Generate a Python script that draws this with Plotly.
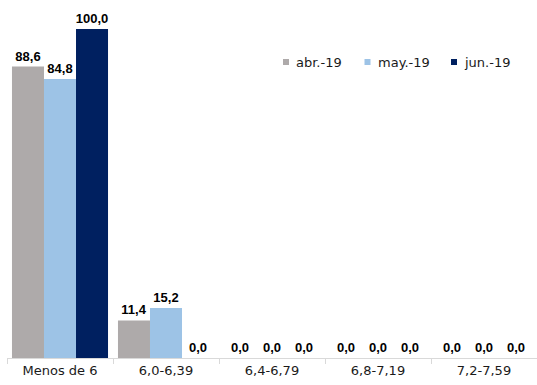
import plotly.graph_objects as go

# Rangos de la variable (categorías del eje X)
categorias = ["Menos de 6", "6,0-6,39", "6,4-6,79", "6,8-7,19", "7,2-7,59"]

# Participación (%) por mes
abr_19 = [88.6, 11.4, 0.0, 0.0, 0.0]
may_19 = [84.8, 15.2, 0.0, 0.0, 0.0]
jun_19 = [100.0, 0.0, 0.0, 0.0, 0.0]

meses = ["abr.-19", "may.-19", "jun.-19"]
valores_mes = [abr_19, may_19, jun_19]
colores = ["#AEAAAA", "#9DC3E6", "#002060"]

FONT = "DejaVu Sans, Verdana, sans-serif"
FONT_ETIQ = "Liberation Sans, Arial, sans-serif"

# Geometría de la figura (px)
W, H = 537, 385
M_L, M_R, M_T, M_B = 7, 0, 22, 27
PLOT_W = W - M_L - M_R
PLOT_H = H - M_T - M_B


def px_x(px):
    return (px - M_L) / PLOT_W


def px_y(py):
    return (H - M_B - py) / PLOT_H


def etiqueta(v):
    return f"{v:.1f}".replace(".", ",")


fig = go.Figure()
for nombre, valores, color in zip(meses, valores_mes, colores):
    fig.add_trace(go.Bar(
        name=nombre,
        x=categorias,
        y=valores,
        marker=dict(color=color, line=dict(width=0)),
        text=[etiqueta(v) for v in valores],
        textposition="outside",
        constraintext="none",
        textfont=dict(family=FONT_ETIQ, size=13, color="#000000", weight="bold"),
        cliponaxis=False,
        showlegend=False,
    ))

# Leyenda: cuadrito de color + nombre del mes
leyenda_x = [283, 364.5, 451]
leyenda_y = 62
lado = 6
for nombre, color, x0 in zip(meses, colores, leyenda_x):
    fig.add_shape(
        type="rect", xref="paper", yref="paper",
        x0=px_x(x0), x1=px_x(x0 + lado),
        y0=px_y(leyenda_y + lado / 2), y1=px_y(leyenda_y - lado / 2),
        fillcolor=color, line=dict(width=0),
    )
    fig.add_annotation(
        xref="paper", yref="paper",
        x=px_x(x0 + lado + 5), y=px_y(leyenda_y),
        xanchor="left", yanchor="middle",
        text=nombre, showarrow=False,
        font=dict(family=FONT, size=13, color="#1A1A1A"),
    )

fig.update_layout(
    width=W,
    height=H,
    margin=dict(l=M_L, r=M_R, t=M_T, b=M_B),
    paper_bgcolor="white",
    plot_bgcolor="white",
    barmode="group",
    bargap=0.094,
    bargroupgap=0,
    font=dict(family=FONT, size=13, color="#1A1A1A"),
    showlegend=False,
    xaxis=dict(
        type="category",
        showline=True,
        linecolor="#D9D9D9",
        linewidth=1,
        ticks="outside",
        tickson="boundaries",
        ticklen=5,
        tickcolor="#D9D9D9",
        showgrid=False,
        automargin=False,
        tickfont=dict(family=FONT, size=13, color="#1A1A1A"),
    ),
    yaxis=dict(
        range=[0, 100 * PLOT_H / 329],
        visible=False,
        showgrid=False,
        zeroline=False,
    ),
)

fig.write_html("out.html")
